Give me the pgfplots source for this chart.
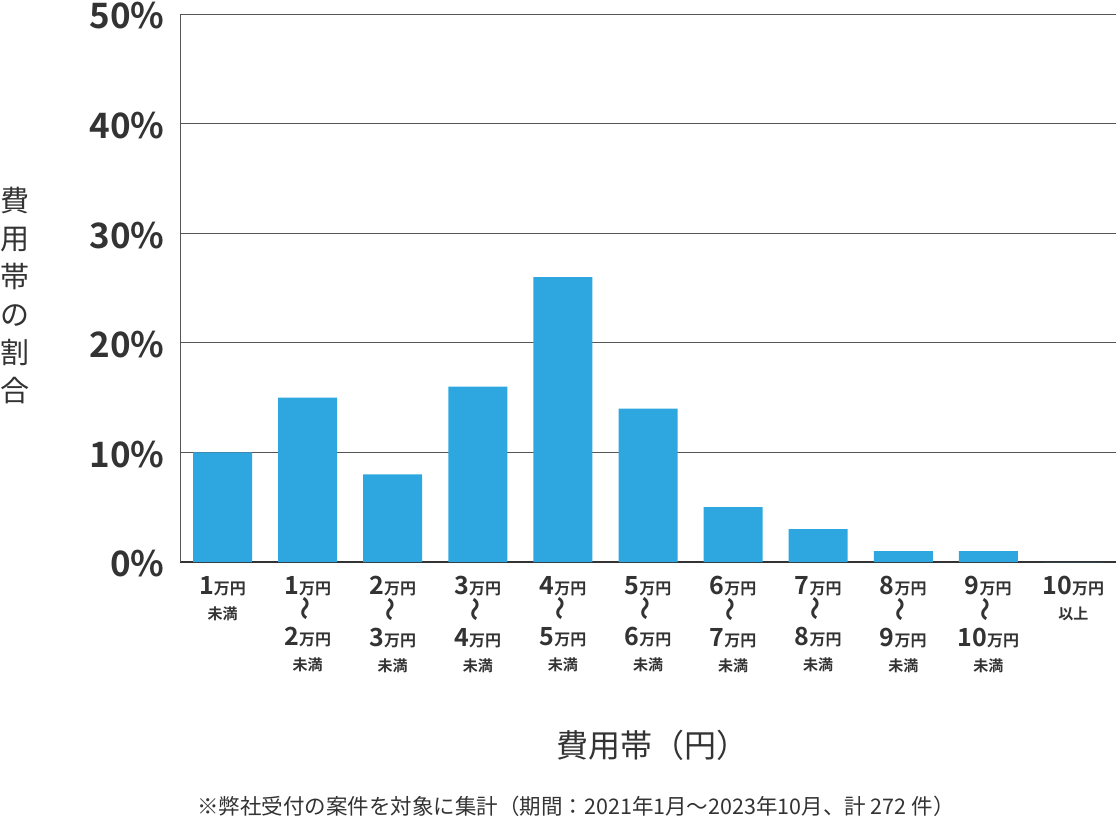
\documentclass[border=0pt]{standalone}
\usepackage{fontspec}
\usepackage{graphicx}
\usepackage{pgfplots}
\pgfplotsset{compat=1.18}
\setmainfont{Noto Sans CJK JP}[BoldFont={Noto Sans CJK JP Bold}]

\definecolor{barblue}{HTML}{2EA7E0}
\definecolor{txt}{HTML}{333333}
\definecolor{gridc}{HTML}{555555}

% x tick label pieces
\newcommand{\num}[1]{{\fontsize{25}{25}\selectfont #1}}
\newcommand{\man}{{\fontsize{16}{25}\selectfont 万円}}
\newcommand{\miman}{{\fontsize{15}{25}\selectfont 未満}}
\newcommand{\ijou}{{\fontsize{15}{25}\selectfont 以上}}
\newcommand{\kara}{\rotatebox{90}{\fontsize{24}{25}\selectfont ～}}
\newcommand{\rng}[2]{\num{#1}\man\\\kara\\\num{#2}\man\\\miman}

\begin{document}
\begin{tikzpicture}
\path[use as bounding box] (-180pt,-266pt) rectangle (936pt,562pt);
\begin{axis}[
    at={(0,0)}, anchor=south west,
    scale only axis,
    width=936pt, height=548pt,
    ymin=0, ymax=50,
    xmin=-0.5, xmax=10.5,
    ybar, bar width=59pt, bar shift=0pt,
    axis x line*=bottom, axis y line*=left,
    axis line style={txt, line width=1.2pt},
    x axis line style={-}, y axis line style={-, gridc, line width=0.8pt},
    ymajorgrids, grid style={gridc, line width=0.8pt},
    major tick length=0pt,
    ytick={0,10,20,30,40,50},
    yticklabels={0\%,10\%,20\%,30\%,40\%,50\%},
    yticklabel style={font=\fontsize{35}{35}\selectfont\bfseries, text=txt, xshift=-12pt, yshift=-2pt},
    xtick={0,...,10},
    xticklabels={
        {\num{1}\man\\\miman},
        {\rng{1}{2}},
        {\rng{2}{3}},
        {\rng{3}{4}},
        {\rng{4}{5}},
        {\rng{5}{6}},
        {\rng{6}{7}},
        {\rng{7}{8}},
        {\rng{8}{9}},
        {\rng{9}{10}},
        {\num{10}\man\\\ijou}},
    xticklabel style={font=\fontsize{20}{25}\selectfont\bfseries, text=txt, align=center, anchor=north, yshift=-11pt},
    xlabel={費用帯（円）},
    xlabel style={font=\fontsize{32}{32}\selectfont, text=txt, at={(axis description cs:0.505,-0.334)}, anchor=center},
    ylabel={費\\用\\帯\\の\\割\\合},
    ylabel style={font=\fontsize{29}{38}\selectfont, text=txt, align=center, rotate=-90, at={(axis description cs:-0.176,0.487)}, anchor=center},
    clip=false,
]
\addplot[fill=barblue, draw=none] coordinates {
    (0,10) (1,15) (2,8) (3,16) (4,26) (5,14) (6,5) (7,3) (8,1) (9,1) (10,0)
};
\node[font=\fontsize{21.5}{22}\selectfont, text=txt, anchor=center] at (axis description cs:0.423,-0.445)
    {※弊社受付の案件を対象に集計（期間：2021年1月～2023年10月、計 272 件）};
\end{axis}
\end{tikzpicture}
\end{document}
